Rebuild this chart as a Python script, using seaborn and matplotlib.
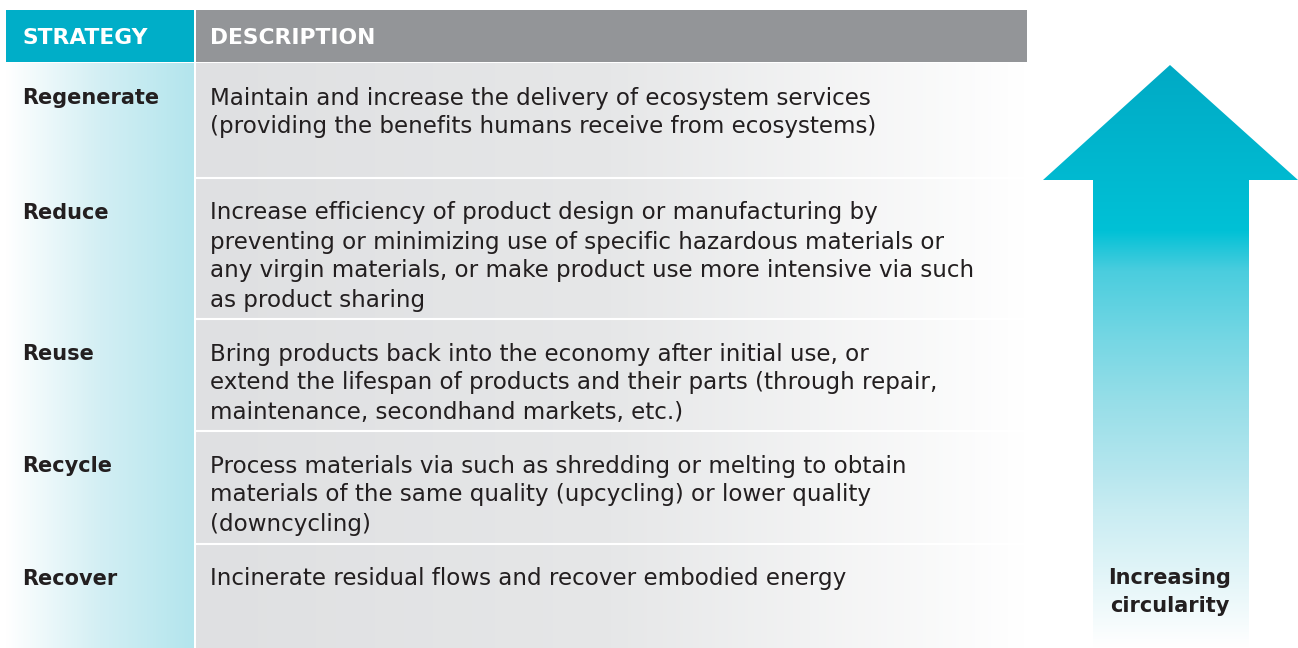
import numpy as np
import matplotlib
matplotlib.use("Agg")
import matplotlib.pyplot as plt
import seaborn as sns
from matplotlib.patches import Polygon, Rectangle
from matplotlib.colors import LinearSegmentedColormap

sns.set_theme(style="white")
plt.rcParams["font.family"] = ["DejaVu Sans"]

# ---- table content ----
headers = ["STRATEGY", "DESCRIPTION"]
strategies = ["Regenerate", "Reduce", "Reuse", "Recycle", "Recover"]
descriptions = [
    ["Maintain and increase the delivery of ecosystem services",
     "(providing the benefits humans receive from ecosystems)"],
    ["Increase efficiency of product design or manufacturing by",
     "preventing or minimizing use of specific hazardous materials or",
     "any virgin materials, or make product use more intensive via such",
     "as product sharing"],
    ["Bring products back into the economy after initial use, or",
     "extend the lifespan of products and their parts (through repair,",
     "maintenance, secondhand markets, etc.)"],
    ["Process materials via such as shredding or melting to obtain",
     "materials of the same quality (upcycling) or lower quality",
     "(downcycling)"],
    ["Incinerate residual flows and recover embodied energy"],
]
arrow_label = "Increasing\ncircularity"

# ---- layout (pixels) ----
W, H = 1298, 648
row_tops = [63, 178, 319, 431, 544]
header_top, header_bot = 10, 62
col1 = (6, 194)
col2 = (196, 1027)
TEAL = "#00AEC8"
GREY = "#939598"
TXT = "#231F20"
FS = 16.6

fig = plt.figure(figsize=(W / 100, H / 100), dpi=100)
ax = fig.add_axes([0, 0, 1, 1])
ax.set_xlim(0, W)
ax.set_ylim(H, 0)
ax.axis("off")

# header cells
ax.add_patch(Rectangle((col1[0], header_top), col1[1] - col1[0], header_bot - header_top,
                       color=TEAL, lw=0))
ax.add_patch(Rectangle((col2[0], header_top), col2[1] - col2[0], header_bot - header_top,
                       color=GREY, lw=0))
ax.text(col1[0] + 16, (header_top + header_bot) / 2 + 1.5, headers[0], color="white",
        fontsize=15.7, fontweight="bold", va="center", ha="left")
ax.text(col2[0] + 14, (header_top + header_bot) / 2 + 1.5, headers[1], color="white",
        fontsize=15.7, fontweight="bold", va="center", ha="left")

# strategy column gradient (white -> light cyan)
cyan_cmap = LinearSegmentedColormap.from_list("c", ["#FFFFFF", "#D3EFF4", "#B3E5ED"])
grad = np.linspace(0, 1, 256).reshape(1, -1)
ax.imshow(grad, cmap=cyan_cmap, aspect="auto",
          extent=(col1[0], col1[1], H, header_bot + 1), zorder=1)

# description column gradient (light grey -> white)
grey_cmap = LinearSegmentedColormap.from_list("g", ["#DFE0E2", "#E6E7E8", "#FFFFFF"])
ax.imshow(grad, cmap=grey_cmap, aspect="auto",
          extent=(col2[0], col2[1], H, header_bot + 1), zorder=1)

# row separators
for y in row_tops[1:]:
    ax.plot([col2[0], col2[1]], [y - 0.5, y - 0.5], color="white", lw=1.5, zorder=2)

# texts
line_h = 29
for top, name, lines in zip(row_tops, strategies, descriptions):
    y0 = top + 35
    ax.text(22, y0, name, color=TXT, fontsize=15, fontweight="bold",
            va="center", ha="left", zorder=3)
    for i, ln in enumerate(lines):
        ax.text(210, y0 + i * line_h, ln, color=TXT, fontsize=FS,
                va="center", ha="left", zorder=3)

# arrow with vertical gradient
arrow_pts = [(1170, 65), (1298, 180), (1249, 180), (1249, 648),
             (1093, 648), (1093, 180), (1043, 180)]
arrow = Polygon(arrow_pts, closed=True, facecolor="none", edgecolor="none")
ax.add_patch(arrow)
arrow_cmap = LinearSegmentedColormap.from_list(
    "a", [(0.0, "#00AAC5"), (0.283, "#00C1D6"), (0.352, "#4ACDDE"),
          (0.472, "#76D7E4"), (0.575, "#96DEE8"), (0.695, "#B5E6EE"),
          (0.763, "#C8ECF2"), (1.0, "#FFFFFF")])
vgrad = np.linspace(0, 1, 256).reshape(-1, 1)
img = ax.imshow(vgrad, cmap=arrow_cmap, aspect="auto",
                extent=(1043, 1298, H, 65), zorder=1)
img.set_clip_path(arrow)

ax.text(1170, 592, arrow_label, color=TXT, fontsize=15, fontweight="bold",
        va="center", ha="center", linespacing=1.5, zorder=3)

fig.savefig("out.png", dpi=100)
